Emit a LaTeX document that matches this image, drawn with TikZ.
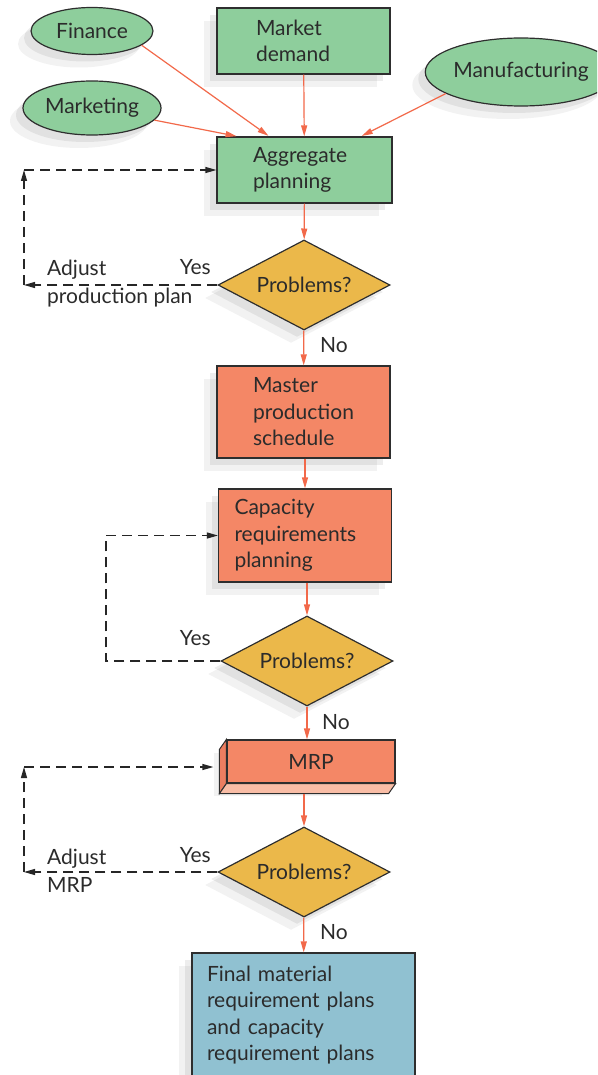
\documentclass[tikz,border=0pt]{standalone}
\usepackage{fontspec}
\setmainfont{Lato}
\usepackage{xcolor}
\usepackage{tikz}
\usetikzlibrary{arrows.meta, positioning, calc, shapes.geometric, shadows}
\definecolor{pgreen}{HTML}{8ECE9C}
\definecolor{psalmon}{HTML}{F48766}
\definecolor{pyellow}{HTML}{EBB84A}
\definecolor{pblue}{HTML}{90C1D1}
\definecolor{parrow}{HTML}{F2694A}
\definecolor{pline}{HTML}{2E2E2E}
\definecolor{ptext}{HTML}{2B2B2B}
\definecolor{pslabside}{HTML}{EC7D60}
\definecolor{pslabbase}{HTML}{F9BDA6}
\tikzset{
  softshadow/.style={drop shadow={shadow xshift=-13pt, shadow yshift=-13pt,
                     fill=black, opacity=0.05},
                     drop shadow={shadow xshift=-7pt, shadow yshift=-7pt,
                     fill=black, opacity=0.07}},
  greenbox/.style={draw=pline, fill=pgreen, line width=1.2pt, align=left,
                   inner ysep=0pt, softshadow},
  redbox/.style={greenbox, fill=psalmon},
  bluebox/.style={greenbox, fill=pblue},
  greenoval/.style={ellipse, draw=pline, fill=pgreen, line width=1.2pt,
                    inner sep=0pt, softshadow},
  decision/.style={diamond, draw=pline, fill=pyellow, line width=1.2pt, aspect=1.95,
                   minimum width=172pt, minimum height=90pt, inner sep=0pt, softshadow},
  flow/.style={-{Triangle[length=11pt, width=6pt]}, parrow, line width=1.2pt},
  fback/.style={-{Triangle[length=11pt, width=6pt]}, black!85, line width=1.2pt,
                dash pattern=on 10pt off 6pt},
  note/.style={inner sep=0pt, align=left, font=\fontsize{21}{28}\selectfont},
}

\begin{document}
\begin{tikzpicture}[x=1pt, y=-1pt, font=\fontsize{21}{26.5}\selectfont, text=ptext]

  \clip (0,0) rectangle (597,1075);

  % inputs
  \node[greenoval, minimum width=122pt, minimum height=47pt] (finance) at (92,31) {Finance};
  \node[greenoval, minimum width=138pt, minimum height=54pt] (marketing) at (92,108) {Marketing};
  \node[greenoval, minimum width=158pt, minimum height=68pt] (manufacturing) at (521,72) {Manufacturing};
  \node[greenbox, text width=95pt, inner xsep=39pt, minimum height=66pt] (demand) at (303.5,41) {Market\\demand};
  \node[greenbox, text width=103pt, inner xsep=36pt, minimum height=66pt] (aggregate) at (304.5,170) {Aggregate\\planning};

  % main chain
  \node[decision] (check1) at (304,285) {Problems?};
  \node[redbox, text width=101pt, inner xsep=36pt, minimum height=92pt] (mps) at (303.5,412) {Master\\production\\schedule};
  \node[redbox, text width=141pt, inner xsep=16pt, minimum height=93pt] (crp) at (305,535.5) {Capacity\\requirements\\planning};
  \node[decision] (check2) at (307,661) {Problems?};
  \node[redbox, minimum width=168pt, minimum height=43pt, align=center] (mrp) at (311,761.5) {MRP};
  \filldraw[fill=pslabside, draw=pline, line width=1pt]
    (mrp.north west) -- ++(-7,10) -- ($(mrp.south west)+(-7,10)$) -- (mrp.south west) -- cycle;
  \filldraw[fill=pslabbase, draw=pline, line width=1pt]
    (mrp.south west) -- (mrp.south east) -- ++(-7,10) -- ($(mrp.south west)+(-7,10)$) -- cycle;
  \coordinate (mrpbase) at ($(mrp.south)+(-7,10)$);
  \node[decision] (check3) at (304,872) {Problems?};
  \node[bluebox, text width=193pt, inner xsep=15pt, minimum height=124pt] (final) at (303.5,1015)
    {Final material\\requirement plans\\and capacity\\requirement plans};

  % flow arrows
  \draw[flow, shorten >=1pt] (finance.-16) -- ($(aggregate.north west)!0.30!(aggregate.north east)$);
  \draw[flow, shorten >=1pt] (marketing.-11) -- ($(aggregate.north west)!0.12!(aggregate.north east)$);
  \draw[flow, shorten >=1pt] (manufacturing.196) -- ($(aggregate.north west)!0.82!(aggregate.north east)$);
  \draw[flow] (demand) -- (aggregate);
  \draw[flow] (aggregate) -- (check1);
  \draw[flow] (check1) -- (mps);
  \draw[flow] (crp.north |- mps.south) -- (crp.north);
  \draw[flow] (crp.south -| check2.north) -- (check2.north);
  \draw[flow] (check2.south) -- (check2.south |- mrp.north);
  \draw[flow] (mrpbase) -- (check3);
  \draw[flow] (check3) -- (final);

  % feedback loops
  \coordinate (loop1low) at (24,285);
  \coordinate (loop1high) at (24,170);
  \draw[fback] (check1.west) -- (loop1low);
  \draw[fback] (loop1low) -- (loop1high);
  \draw[fback] (loop1high) -- (aggregate.west);

  \coordinate (loop2low) at (106,661);
  \coordinate (loop2high) at (106,535.5);
  \draw[fback] (check2.west) -- (loop2low) -- (loop2high) -- (crp.west);

  \coordinate (loop3low) at (24,872);
  \coordinate (loop3high) at (24,767);
  \draw[fback] (check3.west) -- (loop3low);
  \draw[fback] (loop3low) -- (loop3high);
  \draw[fback, shorten >=13pt] (loop3high) -- (loop3high -| mrp.west);

  % labels
  \node[note, anchor=west] (adjust1) at (47,284) {Adjust\\production plan};
  \node[note, anchor=east] (yes1) at (211,267) {Yes};
  \node[note, anchor=west] (no1) at (320,345) {No};
  \node[note, anchor=east] (yes2) at (211,638) {Yes};
  \node[note, anchor=west] (no2) at (322,722) {No};
  \node[note, anchor=west] (adjust3) at (47,871) {Adjust\\MRP};
  \node[note, anchor=east] (yes3) at (211,855) {Yes};
  \node[note, anchor=west] (no3) at (320,932) {No};

\end{tikzpicture}
\end{document}
